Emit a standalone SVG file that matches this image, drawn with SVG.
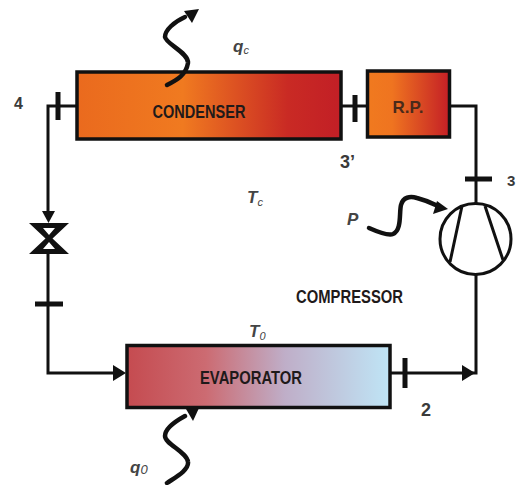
<svg xmlns="http://www.w3.org/2000/svg" width="517" height="485" viewBox="0 0 517 485">
<style>
.l{fill:none;stroke:#111;stroke-width:3}
.t{fill:none;stroke:#111;stroke-width:5}
.w{fill:none;stroke:#111;stroke-width:4.5;stroke-linecap:round}
.b{stroke:#111;stroke-width:3.5}
.n{font-family:"Liberation Sans",Arial,sans-serif;font-weight:700;fill:#1f1a1a;font-size:19px}
.i{font-family:"Liberation Sans",Arial,sans-serif;font-style:italic;font-weight:700;fill:#444;font-size:17px}
.u{font-size:11px;font-weight:400}
.s{font-family:"Liberation Sans",Arial,sans-serif;font-weight:700;fill:#3a3a3a;font-size:16px}
.a{fill:#111}
</style>
<defs>
<linearGradient id="g1"><stop offset="0" stop-color="#ea6a1e"/><stop offset=".4" stop-color="#f07a20"/><stop offset=".8" stop-color="#c92a24"/><stop offset="1" stop-color="#c21f26"/></linearGradient>
<linearGradient id="g2"><stop offset="0" stop-color="#f07a1f"/><stop offset=".3" stop-color="#ef7420"/><stop offset="1" stop-color="#c41f26"/></linearGradient>
<linearGradient id="g3"><stop offset="0" stop-color="#c54b50"/><stop offset=".3" stop-color="#cc6b72"/><stop offset=".6" stop-color="#bfaec8"/><stop offset="1" stop-color="#bfe5f6"/></linearGradient>
</defs>
<g id="connectors">
<path class="l" d="M76 106H48V215"/>
<path class="a" d="M42 211H55L48.500 223Z"/>
<path class="l" d="M48 252V373H116"/>
<path class="a" d="M113 365L126 373L113 381Z"/>
<path class="l" d="M341 106H367"/>
<path class="l" d="M450 106H476V204"/>
<path class="l" d="M476 274V373H391"/>
<path class="a" d="M462 365L475 373L462 381Z"/>
<path class="t" d="M355 95V122M58 92V120M405 358V388"/>
<path class="t" d="M465 179H492M35 304H63"/>
</g>
<g id="condenser"><rect class="b" x="77" y="72" width="264" height="67" fill="url(#g1)"/><text class="n" x="199" y="118" text-anchor="middle" textLength="93" lengthAdjust="spacingAndGlyphs">CONDENSER</text></g>
<g id="rp"><rect class="b" x="367.500" y="71" width="82" height="66" fill="url(#g2)"/><text class="n" x="408" y="113" text-anchor="middle" style="fill:#4a2a1a;font-size:17px">R.P.</text></g>
<g id="evaporator"><rect class="b" x="127" y="345.500" width="263" height="62" fill="url(#g3)"/><text class="n" x="251" y="384" text-anchor="middle" textLength="102" lengthAdjust="spacingAndGlyphs">EVAPORATOR</text></g>
<g id="compressor"><circle cx="475.500" cy="239" r="35.500" fill="#fff" stroke="#111" stroke-width="3"/><path class="l" d="M462 206L450 262M485 206L503 260"/><text class="n" x="349.500" y="303" text-anchor="middle" textLength="107" lengthAdjust="spacingAndGlyphs">COMPRESSOR</text></g>
<g id="valve"><path class="a" d="M29 223H69L52.500 238.500L69 254H29L45.500 238.500Z"/><path fill="#fff" d="M43 228H55L49 235ZM43 249H55L49 242Z"/></g>
<g id="heat-out"><path class="w" d="M167 85C177 80 186 75 188 63C189 53 166 44 165 37C165 30 174 22 185 17"/><path class="a" d="M199 9L192 23L184 11Z"/></g>
<g id="heat-in"><path class="w" d="M167 483C176 477 189 470 188 462C187 452 165 444 165 436C165 429 174 422 185 416"/><path class="a" d="M199 408L193 421L186 409Z"/></g>
<g id="power"><path class="w" d="M369 228C378 232 388 236 393 234C402 230 399 213 401 205C403 197 410 196 417 198C425 200 432 203 438 206"/><path class="a" d="M448 209L433 214L437 201Z"/></g>
<g id="labels">
<text class="s" x="14" y="109">4</text>
<text class="i" x="233" y="52">q<tspan class="u" dy="2">c</tspan></text>
<text class="s" x="340" y="168" style="font-size:18px">3’</text>
<text class="s" x="507" y="186" style="font-size:15px">3</text>
<text class="i" x="247" y="203">T<tspan class="u" dy="3">c</tspan></text>
<text class="i" x="347" y="225">P</text>
<text class="i" x="249" y="337">T<tspan class="u" dy="3">0</tspan></text>
<text class="s" x="421" y="416" style="font-size:18px">2</text>
<text class="i" x="130" y="473">q<tspan class="u" dy="1" style="font-size:13px">0</tspan></text>
</g>
</svg>
